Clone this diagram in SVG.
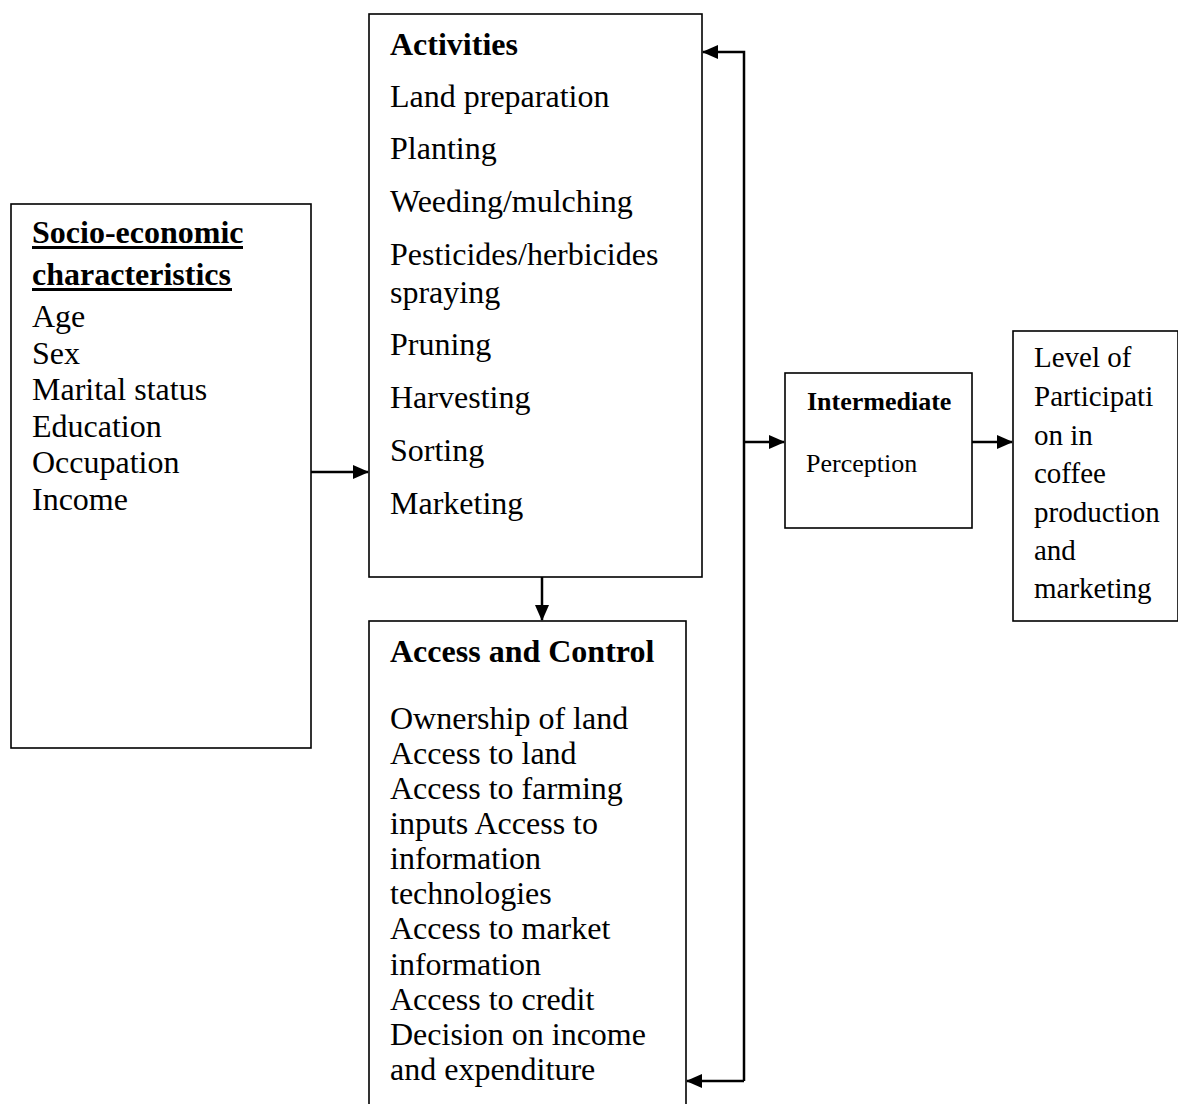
<svg xmlns="http://www.w3.org/2000/svg" width="1178" height="1104" viewBox="0 0 1178 1104">
<style>
.box{fill:#fff;stroke:#000;stroke-width:1.6}
.t{font-family:"Liberation Serif","Times New Roman",serif;font-size:32px;fill:#000}
.b{font-weight:bold}
.lv{font-size:29px}
.im{font-size:26px}
.c{fill:none;stroke:#000;stroke-width:2.5}
</style>
<defs>
<marker id="ah" markerWidth="16" markerHeight="14" refX="15" refY="7" orient="auto" markerUnits="userSpaceOnUse">
<path d="M0,0 L16,7 L0,14 Z" fill="#000"/>
</marker>
</defs>
<rect width="1178" height="1104" fill="#fff"/>
<g id="socio">
<rect class="box" x="11" y="204" width="300" height="544"/>
<text class="t b" x="32" y="243">Socio-economic</text>
<rect x="32" y="246" width="211" height="3" fill="#000"/>
<text class="t b" x="32" y="285">characteristics</text>
<rect x="32" y="288" width="200" height="3" fill="#000"/>
<text class="t" x="32" y="327">Age</text>
<text class="t" x="32" y="364">Sex</text>
<text class="t" x="32" y="400">Marital status</text>
<text class="t" x="32" y="437">Education</text>
<text class="t" x="32" y="473">Occupation</text>
<text class="t" x="32" y="510">Income</text>
</g>
<g id="activities">
<rect class="box" x="369" y="14" width="333" height="563"/>
<text class="t b" x="390" y="55">Activities</text>
<text class="t" x="390" y="107">Land preparation</text>
<text class="t" x="390" y="159">Planting</text>
<text class="t" x="390" y="212">Weeding/mulching</text>
<text class="t" x="390" y="265">Pesticides/herbicides</text>
<text class="t" x="390" y="303">spraying</text>
<text class="t" x="390" y="355">Pruning</text>
<text class="t" x="390" y="408">Harvesting</text>
<text class="t" x="390" y="461">Sorting</text>
<text class="t" x="390" y="514">Marketing</text>
</g>
<g id="access">
<rect class="box" x="369" y="621" width="317" height="495"/>
<text class="t b" x="390" y="662">Access and Control</text>
<text class="t" x="390" y="729">Ownership of land</text>
<text class="t" x="390" y="764">Access to land</text>
<text class="t" x="390" y="799">Access to farming</text>
<text class="t" x="390" y="834">inputs Access to</text>
<text class="t" x="390" y="869">information</text>
<text class="t" x="390" y="904">technologies</text>
<text class="t" x="390" y="939">Access to market</text>
<text class="t" x="390" y="975">information</text>
<text class="t" x="390" y="1010">Access to credit</text>
<text class="t" x="390" y="1045">Decision on income</text>
<text class="t" x="390" y="1080">and expenditure</text>
</g>
<g id="intermediate">
<rect class="box" x="785" y="373" width="187" height="155"/>
<text class="t b im" x="807" y="410">Intermediate</text>
<text class="t im" x="806" y="472">Perception</text>
</g>
<g id="level">
<rect class="box" x="1013" y="331" width="165" height="290"/>
<text class="t lv" x="1034" y="367">Level of</text>
<text class="t lv" x="1034" y="406">Participati</text>
<text class="t lv" x="1034" y="445">on in</text>
<text class="t lv" x="1034" y="483">coffee</text>
<text class="t lv" x="1034" y="522">production</text>
<text class="t lv" x="1034" y="560">and</text>
<text class="t lv" x="1034" y="598">marketing</text>
</g>
<g id="connectors">
<line class="c" x1="311" y1="472" x2="368" y2="472" marker-end="url(#ah)"/>
<line class="c" x1="542" y1="577" x2="542" y2="620" marker-end="url(#ah)"/>
<polyline class="c" points="744,1081 744,52 703,52" marker-end="url(#ah)"/>
<line class="c" x1="744" y1="1081" x2="687" y2="1081" marker-end="url(#ah)"/>
<line class="c" x1="744" y1="442" x2="784" y2="442" marker-end="url(#ah)"/>
<line class="c" x1="972" y1="442" x2="1012" y2="442" marker-end="url(#ah)"/>
</g>
</svg>
